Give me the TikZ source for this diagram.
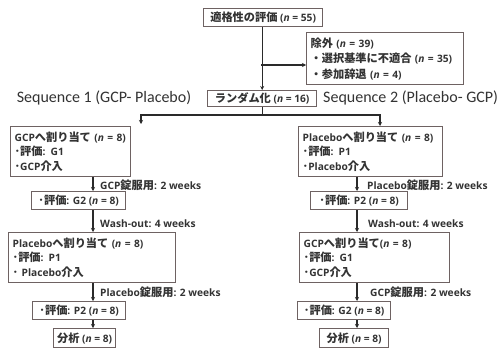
\documentclass[tikz,border=0pt]{standalone}
\usepackage{fontspec}
\setmainfont{Carlito}
\newfontfamily\lat{Open Sans}
\newfontfamily\jp{Noto Sans CJK JP}
\usetikzlibrary{arrows.meta}
\definecolor{bxc}{HTML}{6E6262}
\definecolor{txc}{HTML}{333333}
\definecolor{lnc}{HTML}{2A2A2A}
\newcommand{\nn}{\textit{n}}
\newcommand{\J}[1]{{\jp\fontsize{11.2}{14.5}\selectfont #1}}
\begin{document}
\begin{tikzpicture}[x=1pt,y=-1pt,
  bx/.style={draw=bxc, line width=1.3pt, anchor=north west, inner xsep=4pt, inner ysep=0pt,
    align=left, font=\lat\fontsize{10.2}{14.5}\selectfont\bfseries, text=txc},
  sbx/.style={bx, inner xsep=0pt, align=center},
  lbl/.style={anchor=west, inner sep=0pt, font=\lat\fontsize{10.2}{12}\selectfont\bfseries, text=txc},
  seq/.style={inner sep=0pt, font=\fontsize{16}{18}\selectfont, text=txc},
  ln/.style={draw=lnc, line width=1.3pt},
  ar/.style={ln, -{Stealth[length=4pt,width=4pt]}}]
\fill[white] (0,0) rectangle (500,348);
\useasboundingbox (0,0) rectangle (500,348);

% top part
\node[sbx, minimum width=119pt, minimum height=18pt] (top) at (203,8)
  {\J{適格性の評価} (\nn{} = 55)};
\node[bx, text width=149pt, minimum height=52pt, font=\lat\fontsize{10.2}{15.5}\selectfont\bfseries] (excl) at (306,32)
  {\J{除外} (\nn{} = 39)\\\J{・選択基準に不適合} (\nn{} = 35)\\\J{・参加辞退} (\nn{} = 4)};
\node[sbx, minimum width=109pt, minimum height=16pt] (rand) at (207,90)
  {\J{ランダム化} (\nn{} = 16)};
\node[seq] (seq1) at (104,98) {Sequence 1 (GCP- Placebo)};
\node[seq, anchor=west] (seq2) at (323,98) {Sequence 2 (Placebo- GCP)};

\coordinate (br) at (261,65);
\draw[ar] (rand.north |- top.south) -- (rand.north);
\draw[ar] (br) -- (br -| excl.west);

% left sequence
\node[bx, text width=112pt, minimum height=50pt] (lb1) at (10,126)
  {GCP\J{へ割り当て} (\nn{} = 8)\\\J{･評価}: G1\\\J{･}GCP\J{介入}};
\node[sbx, minimum width=94pt, minimum height=18pt] (lb2) at (31,191)
  {\J{･評価}: G2 (\nn{} = 8)};
\node[bx, text width=159pt, minimum height=50pt] (lb3) at (8,232)
  {Placebo\J{へ割り当て} (\nn{} = 8)\\\J{･評価}: P1\\\J{･} Placebo\J{介入}};
\node[sbx, minimum width=93pt, minimum height=18pt] (lb4) at (32,301)
  {\J{･評価}: P2 (\nn{} = 8)};
\node[sbx, minimum width=62pt, minimum height=19pt] (lb5) at (53,328)
  {\J{分析} (\nn{} = 8)};
\node[lbl] (ll1) at (100,185) {GCP\J{錠服用}: 2 weeks};
\node[lbl] (ll2) at (100,224) {Wash-out: 4 weeks};
\node[lbl] (ll3) at (100,292) {Placebo\J{錠服用}: 2 weeks};

% right sequence
\node[bx, text width=136pt, minimum height=50pt] (rb1) at (298,126)
  {Placebo\J{へ割り当て} (\nn{} = 8)\\\J{･評価}: P1\\\J{･}Placebo\J{介入}};
\node[sbx, minimum width=97pt, minimum height=18pt] (rb2) at (310,191)
  {\J{･評価}: P2 (\nn{} = 8)};
\node[bx, text width=142pt, minimum height=50pt] (rb3) at (299,232)
  {GCP\J{へ割り当て}(\nn{} = 8)\\\J{･評価}: G1\\\J{･}GCP\J{介入}};
\node[sbx, minimum width=93pt, minimum height=18pt] (rb4) at (297,301)
  {\J{･評価}: G2 (\nn{} = 8)};
\node[sbx, minimum width=69pt, minimum height=19pt] (rb5) at (319,328)
  {\J{分析} (\nn{} = 8)};
\node[lbl] (rl1) at (367,185) {Placebo\J{錠服用}: 2 weeks};
\node[lbl] (rl2) at (368,224) {Wash-out: 4 weeks};
\node[lbl] (rl3) at (370,292) {GCP\J{錠服用}: 2 weeks};

% randomisation split
\coordinate (jl) at (141,115);
\coordinate (jr) at (380,115);
\coordinate (el) at (141,124);
\draw[ln] (rand.south) -- (rand.south |- jl);
\draw[ar] (rand.south |- jl) -- (jl) -- (el);
\draw[ar] (rand.south |- jr) -- (jr) -- (jr |- rb1.north);

% column arrows
\coordinate (lx) at (93,0);
\coordinate (rx) at (357,0);
\draw[ar] (lx |- lb1.south) -- (lx |- lb2.north);
\draw[ar] (lx |- lb2.south) -- (lx |- lb3.north);
\draw[ar] (lx |- lb3.south) -- (lx |- lb4.north);
\draw[ar] (lx |- lb4.south) -- (lx |- lb5.north);
\draw[ar] (rx |- rb1.south) -- (rx |- rb2.north);
\draw[ar] (rx |- rb2.south) -- (rx |- rb3.north);
\draw[ar] (rx |- rb3.south) -- (rx |- rb4.north);
\draw[ar] (rx |- rb4.south) -- (rx |- rb5.north);
\end{tikzpicture}
\end{document}
